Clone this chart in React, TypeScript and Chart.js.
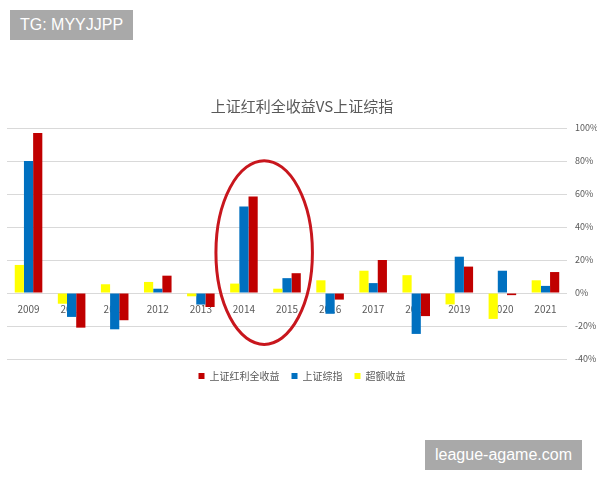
import React, { useEffect, useRef } from "react";
import { Chart, registerables } from "chart.js";

Chart.register(...registerables);

const years = ["2009", "2010", "2011", "2012", "2013", "2014", "2015", "2016", "2017", "2018", "2019", "2020", "2021"];
const dividendTotal = [97, -21, -16.5, 10.5, -8.5, 58.5, 12, -4, 20, -14, 16, -1.3, 12.7];
const composite = [80, -14.5, -22, 2.6, -7, 52.5, 9, -12.6, 6, -24.8, 22, 13.5, 4.3];
const excess = [17, -6.5, 5.3, 6.7, -2, 5.7, 2.6, 7.7, 13.5, 10.8, -6.9, -15.7, 7.7];
const yTicks = [-40, -20, 0, 20, 40, 60, 80, 100];

const titleText = "上证红利全收益VS上证综指";
const seriesNames = ["超额收益", "上证综指", "上证红利全收益"];

const ellipsePlugin = {
  id: "ellipseMark",
  afterDatasetsDraw(chart: any) {
    const { ctx, scales } = chart;
    const x = scales.x;
    const y = scales.y;
    const step = x.getPixelForValue(6) - x.getPixelForValue(5);
    const cx = x.getPixelForValue(5) + step * 0.47;
    const cy = y.getPixelForValue(24.5);
    const rx = step * 1.12;
    const ry = Math.abs(y.getPixelForValue(55.7) - y.getPixelForValue(0));
    ctx.save();
    ctx.beginPath();
    ctx.ellipse(cx, cy, rx, ry, 0, 0, Math.PI * 2);
    ctx.strokeStyle = "#c8161d";
    ctx.lineWidth = 3;
    ctx.stroke();
    ctx.restore();
  },
};

export default function App() {
  const ref = useRef<HTMLCanvasElement | null>(null);

  useEffect(() => {
    document.body.style.margin = "0";
    if (!ref.current) return;
    const font = "'Noto Sans CJK SC', 'Noto Sans', sans-serif";
    const chart = new Chart(ref.current, {
      type: "bar",
      data: {
        labels: years,
        datasets: [
          { label: seriesNames[0], data: excess, backgroundColor: "#ffff00" },
          { label: seriesNames[1], data: composite, backgroundColor: "#0070c0" },
          { label: seriesNames[2], data: dividendTotal, backgroundColor: "#c00000" },
        ],
      },
      options: {
        responsive: false,
        animation: false,
        layout: { padding: { top: 97, left: 7, right: 3, bottom: 89 } },
        datasets: { bar: { barPercentage: 1, categoryPercentage: 0.64 } },
        plugins: {
          title: {
            display: true,
            text: titleText,
            color: "#595959",
            font: { family: font, size: 15, weight: "normal" },
            padding: { top: 0, bottom: 13 },
          },
          legend: {
            position: "bottom",
            reverse: true,
            labels: {
              boxWidth: 6,
              boxHeight: 6,
              color: "#595959",
              font: { family: font, size: 10 },
              padding: 12,
            },
          },
          tooltip: { enabled: false },
        },
        scales: {
          x: {
            position: { y: 0 } as any,
            grid: { display: false },
            border: { display: false },
            ticks: { color: "#595959", font: { family: font, size: 10 }, padding: 2 },
          },
          y: {
            position: "right",
            min: -40,
            max: 100,
            afterBuildTicks: (scale: any) => {
              scale.ticks = yTicks.map((v) => ({ value: v }));
            },
            afterFit: (scale: any) => {
              scale.width = 30;
            },
            grid: { color: "#d9d9d9", drawTicks: false, tickLength: 0 },
            border: { display: false },
            ticks: {
              color: "#595959",
              font: { family: font, size: 9 },
              padding: 8,
              callback: (v: any) => v + "%",
            },
          },
        },
      },
      plugins: [ellipsePlugin],
    });
    return () => chart.destroy();
  }, []);

  const badge: React.CSSProperties = {
    position: "absolute",
    background: "#a9a9a9",
    color: "#ffffff",
    fontFamily: "'Liberation Sans', Arial, sans-serif",
    fontSize: 16,
    lineHeight: "30px",
    padding: "0 10px",
  };

  return (
    <div style={{ position: "relative", width: 600, height: 480, background: "#ffffff", overflow: "hidden" }}>
      <canvas ref={ref} width={600} height={480} style={{ display: "block" }} />
      <div style={{ ...badge, left: 10, top: 10 }}>TG: MYYJJPP</div>
      <div style={{ ...badge, left: 425, top: 440 }}>league-agame.com</div>
    </div>
  );
}
